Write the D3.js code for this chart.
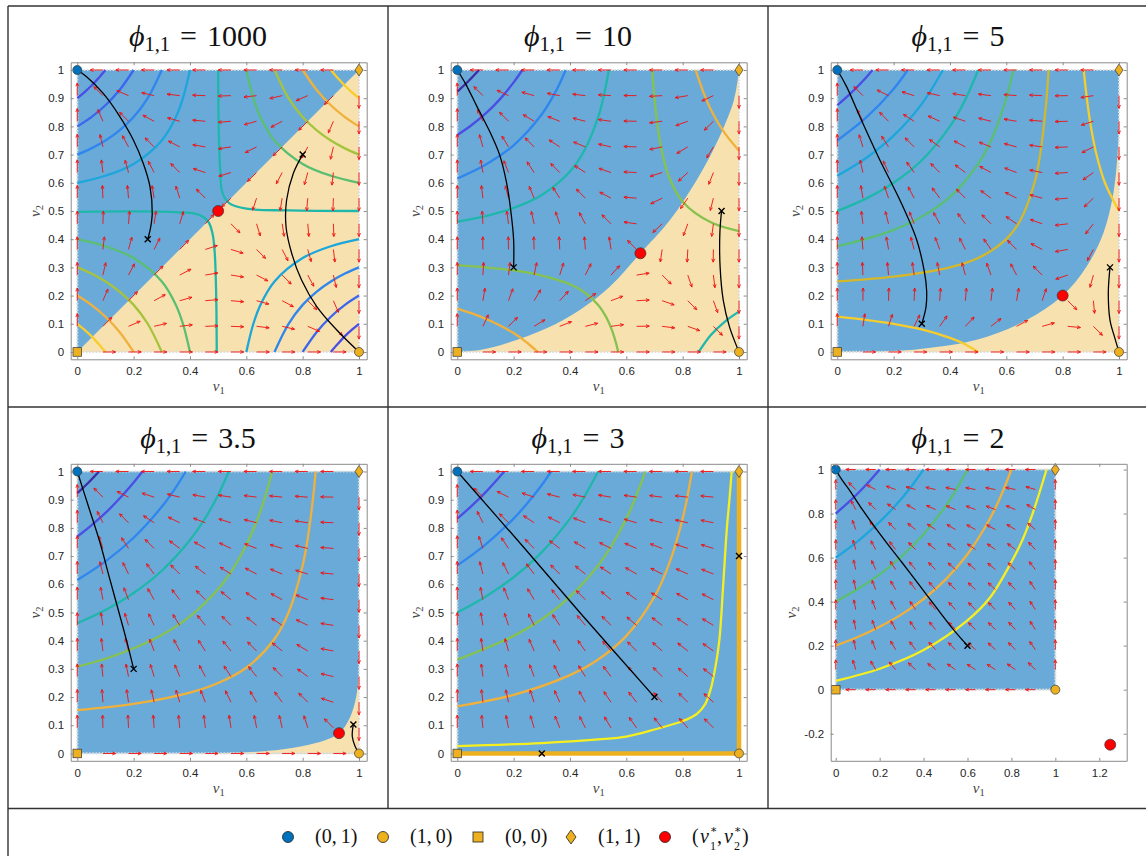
<!DOCTYPE html>
<html>
<head>
<meta charset="utf-8">
<script src="https://cdn.jsdelivr.net/npm/d3@7"></script>
<style>
  body { margin: 0; background: #fff; }
  svg { display: block; }
  .tick text { font-family: "Liberation Sans", Arial, sans-serif; font-size: 11.5px; fill: #262626; }
</style>
</head>
<body>
<div id="chart"></div>
<script>
// ---------------- data ----------------
const phiLabels = ["1000", "10", "5", "3.5", "3", "2"];

// interior equilibrium (v1*, v2*) for each panel, null when it sits on a corner
const saddles = [[0.5, 0.5], [0.65, 0.35], [0.8, 0.2], [0.929, 0.072], null, [1.25, -0.25]];

// quiver grid (same for every panel)
const gridPts = [0, 0.0909, 0.1818, 0.2727, 0.3636, 0.4545, 0.5455, 0.6364, 0.7273, 0.8182, 0.9091, 1];

// horizontal arrow component for each interior row (v2 = gridPts[1..10])
const arrowRowH = [
  [9.87, 4.26, 2.28, 1.165, 0.355, -0.379, -1.19, -2.31, -4.30, -9.94],
  [6.27, 2.26, 0.779, -0.118, -0.843, -1.577, -2.475, -3.805, -6.29, -13.54],
  [2.64, 0.245, -0.734, -1.414, -2.054, -2.787, -3.771, -5.318, -8.31, -17.17],
  [-0.471, -1.484, -2.03, -2.525, -3.091, -3.825, -4.883, -6.615, -10.04, -20.28],
  [-2.2, -2.444, -2.75, -3.143, -3.667, -4.4, -5.5, -7.333, -11, -22],
  [-8.25, -5.8, -5.27, -5.3, -5.68, -6.42, -7.66, -9.86, -14.36, -28.06]
];
// vertical arrow component for each interior column (v1 = gridPts[1..10])
const arrowColV = [
  [9.94, 4.30, 2.31, 1.19, 0.379, -0.355, -1.165, -2.28, -4.26, -9.87],
  [13.54, 6.29, 3.805, 2.475, 1.577, 0.843, 0.118, -0.779, -2.26, -6.27],
  [17.17, 8.31, 5.318, 3.771, 2.787, 2.054, 1.414, 0.734, -0.245, -2.64],
  [20.28, 10.04, 6.615, 4.883, 3.825, 3.091, 2.525, 2.03, 1.484, 0.471],
  [22, 11, 7.333, 5.5, 4.4, 3.667, 3.143, 2.75, 2.444, 2.2],
  [28.06, 14.36, 9.86, 7.66, 6.42, 5.68, 5.3, 5.27, 5.8, 8.25]
];
// flow direction along the square's edges (+1 / -1 / 0 = no flow)
const edgeTop = [-1, -1, -1, -1, -1, -1];     // along v1
const edgeBottom = [1, 1, 1, 1, 0, -1];       // along v1
const edgeLeft = [1, 1, 1, 1, 1, 1];          // along v2
const edgeRight = [-1, -1, -1, -1, 0, 1];     // along v2

// boundary between the two basins (beige region lies below / right of it)
const basinEdge = [
  [[0, 0], [1, 1]],
  [[0, 0], [0.08, 0.007], [0.175, 0.031], [0.317, 0.084], [0.435, 0.149], [0.542, 0.232], [0.65, 0.35],
   [0.755, 0.468], [0.85, 0.61], [0.92, 0.74], [0.982, 0.894], [1, 1]],
  [[0, 0], [0.2, 0.003], [0.317, 0.013], [0.495, 0.043], [0.672, 0.113], [0.8, 0.2], [0.885, 0.303],
   [0.944, 0.42], [0.98, 0.563], [0.995, 0.7], [1, 0.78]],
  [[0.45, 0], [0.6, 0.004], [0.731, 0.015], [0.85, 0.038], [0.929, 0.072], [0.968, 0.128], [0.99, 0.2], [1, 0.28]],
  null,
  null
];

// equilibrium lines (phi = 3)
const eqLines = [[], [], [], [], [[[0, 0], [1, 0]], [[1, 0], [1, 1]]], []];

// contour lines of each panel and their colour key
const contours1000 = [
  [[0, 0.1], [0.025, 0.079], [0.05, 0.056], [0.075, 0.029], [0.1, 0]],
  [[1, 0.9], [0.975, 0.921], [0.95, 0.944], [0.925, 0.971], [0.9, 1]],
  [[0, 0.2], [0.05, 0.167], [0.1, 0.125], [0.15, 0.071], [0.2, 0]],
  [[1, 0.8], [0.95, 0.833], [0.9, 0.875], [0.85, 0.929], [0.8, 1]],
  [[0, 0.3], [0.05, 0.278], [0.1, 0.25], [0.15, 0.214], [0.2, 0.167], [0.25, 0.1], [0.3, 0]],
  [[1, 0.7], [0.95, 0.722], [0.9, 0.75], [0.85, 0.786], [0.8, 0.833], [0.75, 0.9], [0.7, 1]],
  [[0, 0.4], [0.1, 0.375], [0.2, 0.333], [0.3, 0.25], [0.35, 0.167], [0.375, 0.1], [0.4, 0]],
  [[1, 0.6], [0.9, 0.625], [0.8, 0.667], [0.7, 0.75], [0.65, 0.833], [0.625, 0.9], [0.6, 1]],
  [[0, 0.497], [0.35, 0.496], [0.43, 0.487], [0.465, 0.462], [0.48, 0.42], [0.488, 0.35], [0.493, 0.2], [0.495, 0]],
  [[0.5, 1], [0.502, 0.8], [0.507, 0.65], [0.515, 0.565], [0.54, 0.527], [0.6, 0.508], [0.75, 0.502], [1, 0.5]],
  [[0, 0.6], [0.1, 0.625], [0.2, 0.667], [0.3, 0.75], [0.35, 0.833], [0.375, 0.9], [0.4, 1]],
  [[1, 0.4], [0.9, 0.375], [0.8, 0.333], [0.7, 0.25], [0.65, 0.167], [0.625, 0.1], [0.6, 0]],
  [[0, 0.7], [0.05, 0.722], [0.1, 0.75], [0.15, 0.786], [0.2, 0.833], [0.25, 0.9], [0.3, 1]],
  [[1, 0.3], [0.95, 0.278], [0.9, 0.25], [0.85, 0.214], [0.8, 0.167], [0.75, 0.1], [0.7, 0]],
  [[0, 0.8], [0.05, 0.833], [0.1, 0.875], [0.15, 0.929], [0.2, 1]],
  [[1, 0.2], [0.95, 0.167], [0.9, 0.125], [0.85, 0.071], [0.8, 0]],
  [[0, 0.9], [0.025, 0.921], [0.05, 0.944], [0.075, 0.971], [0.1, 1]],
  [[1, 0.1], [0.975, 0.079], [0.95, 0.056], [0.925, 0.029], [0.9, 0]]
];
const tones1000 = ["y1", "y1", "o", "o", "yg", "yg", "g", "g", "t", "t", "lb", "lb", "b", "b", "b2", "b2", "vb", "vb"];

const contours10 = [
  [[0, 0.154], [0.05, 0.1375], [0.1, 0.118], [0.15, 0.095], [0.2, 0.067], [0.25, 0.031], [0.286, 0]],
  [[0.846, 1], [0.85, 0.988], [0.875, 0.917], [0.9, 0.86], [0.95, 0.775], [1, 0.714]],
  [[0, 0.308], [0.1, 0.3], [0.2, 0.289], [0.3, 0.271], [0.4, 0.24], [0.45, 0.2125], [0.5, 0.167], [0.53, 0.121], [0.55, 0.075], [0.565, 0.026], [0.571, 0]],
  [[0.692, 1], [0.7, 0.9], [0.71, 0.808], [0.72, 0.743], [0.75, 0.625], [0.8, 0.533], [0.9, 0.46], [1, 0.429]],
  [[0, 0.462], [0.1, 0.482], [0.2, 0.511], [0.3, 0.557], [0.4, 0.64], [0.45, 0.7125], [0.5, 0.833], [0.52, 0.908], [0.538, 1]],
  [[0.857, 0], [0.9, 0.06], [0.95, 0.108], [1, 0.143]],
  [[0, 0.615], [0.1, 0.664], [0.2, 0.733], [0.3, 0.843], [0.35, 0.925], [0.385, 1]],
  [[0, 0.769], [0.05, 0.804], [0.1, 0.845], [0.15, 0.895], [0.2, 0.956], [0.231, 1]],
  [[0, 0.923], [0.04, 0.961], [0.077, 1]]
];
const tones10 = ["o", "o", "lg", "lg", "t", "t", "b", "vb", "ind"];

const contours5 = [
  [[0, 0.125], [0.1, 0.114], [0.2, 0.1], [0.3, 0.08], [0.4, 0.05], [0.45, 0.029], [0.5, 0]],
  [[0.875, 1], [0.88, 0.95], [0.89, 0.867], [0.9, 0.8], [0.92, 0.7], [0.95, 0.6], [1, 0.5]],
  [[0, 0.25], [0.2, 0.267], [0.4, 0.3], [0.5, 0.333], [0.6, 0.4], [0.65, 0.467], [0.7, 0.6], [0.72, 0.7], [0.74, 0.867], [0.75, 1]],
  [[0, 0.375], [0.1, 0.4], [0.2, 0.433], [0.3, 0.48], [0.4, 0.55], [0.5, 0.667], [0.55, 0.76], [0.6, 0.9], [0.625, 1]],
  [[0, 0.5], [0.1, 0.543], [0.2, 0.6], [0.3, 0.68], [0.4, 0.8], [0.45, 0.886], [0.5, 1]],
  [[0, 0.625], [0.1, 0.686], [0.2, 0.767], [0.3, 0.88], [0.375, 1]],
  [[0, 0.75], [0.1, 0.829], [0.2, 0.933], [0.25, 1]],
  [[0, 0.875], [0.05, 0.92], [0.1, 0.971], [0.125, 1]]
];
const tones5 = ["y1", "y1", "mu", "g", "t", "lb", "b", "vb"];

const contours35 = [
  [[0, 0.154], [0.2, 0.176], [0.4, 0.216], [0.5, 0.25], [0.6, 0.304], [0.7, 0.406], [0.75, 0.5], [0.8, 0.667], [0.82, 0.776], [0.84, 0.935], [0.846, 1]],
  [[0, 0.308], [0.1, 0.336], [0.2, 0.373], [0.3, 0.42], [0.4, 0.486], [0.5, 0.583], [0.55, 0.651], [0.6, 0.739], [0.65, 0.859], [0.692, 1]],
  [[0, 0.462], [0.1, 0.509], [0.2, 0.569], [0.3, 0.648], [0.4, 0.757], [0.45, 0.828], [0.5, 0.917], [0.538, 1]],
  [[0, 0.615], [0.1, 0.681], [0.2, 0.765], [0.3, 0.875], [0.35, 0.944], [0.385, 1]],
  [[0, 0.769], [0.05, 0.809], [0.1, 0.853], [0.15, 0.904], [0.2, 0.961], [0.231, 1]],
  [[0, 0.923], [0.04, 0.961], [0.077, 1]]
];
const tones35 = ["o", "lg", "t", "b", "vb", "ind"];

const contours3 = [
  [[0, 0.026], [0.3, 0.037], [0.5, 0.05], [0.6, 0.06], [0.7, 0.085], [0.8, 0.115], [0.85, 0.14], [0.88, 0.175],
   [0.9, 0.23], [0.915, 0.3], [0.93, 0.4], [0.944, 0.6], [0.957, 0.8], [0.966, 0.9], [0.974, 1]],
  [[0, 0.167], [0.2, 0.208], [0.4, 0.278], [0.5, 0.333], [0.6, 0.417], [0.7, 0.556], [0.75, 0.667], [0.8, 0.833], [0.833, 1]],
  [[0, 0.333], [0.2, 0.417], [0.3, 0.476], [0.4, 0.556], [0.5, 0.667], [0.55, 0.741], [0.6, 0.833], [0.65, 0.952], [0.667, 1]],
  [[0, 0.5], [0.1, 0.556], [0.2, 0.625], [0.3, 0.714], [0.4, 0.833], [0.45, 0.909], [0.5, 1]],
  [[0, 0.667], [0.1, 0.741], [0.2, 0.833], [0.25, 0.889], [0.3, 0.952], [0.333, 1]],
  [[0, 0.833], [0.05, 0.877], [0.1, 0.926], [0.167, 1]]
];
const tones3 = ["y", "o", "lg", "t", "b", "vb"];

const contours2 = [
  [[0, 0.04], [0.2, 0.095], [0.4, 0.18], [0.6, 0.315], [0.7, 0.415], [0.8, 0.58], [0.85, 0.68], [0.9, 0.81], [0.96, 1]],
  [[0, 0.2], [0.1, 0.239], [0.2, 0.286], [0.3, 0.342], [0.4, 0.412], [0.5, 0.5], [0.6, 0.615], [0.7, 0.773], [0.75, 0.875], [0.8, 1]],
  [[0, 0.4], [0.1, 0.457], [0.2, 0.524], [0.3, 0.605], [0.4, 0.706], [0.5, 0.833], [0.55, 0.911], [0.6, 1]],
  [[0, 0.6], [0.1, 0.674], [0.2, 0.762], [0.3, 0.868], [0.35, 0.931], [0.4, 1]],
  [[0, 0.8], [0.05, 0.844], [0.1, 0.891], [0.15, 0.943], [0.2, 1]]
];
const tones2 = ["y", "o", "g", "lb", "vb"];

const contourSets = [contours1000, contours10, contours5, contours35, contours3, contours2];
const toneSets = [tones1000, tones10, tones5, tones35, tones3, tones2];

// sample trajectories (first point = start, marked with x)
const trajectories = [
  [[[0.25, 0.4], [0.26, 0.44], [0.266, 0.492], [0.258, 0.586], [0.234, 0.669], [0.199, 0.752], [0.151, 0.835], [0.092, 0.917], [0.033, 0.976], [0, 1]],
   [[0.8, 0.7], [0.767, 0.634], [0.743, 0.539], [0.741, 0.444], [0.761, 0.35], [0.796, 0.255], [0.85, 0.161], [0.921, 0.078], [1, 0]]],
  [[[0.2, 0.3], [0.2, 0.397], [0.19, 0.5], [0.175, 0.6], [0.15, 0.7], [0.116, 0.78], [0.07, 0.87], [0.03, 0.95], [0, 1]],
   [[0.938, 0.5], [0.932, 0.42], [0.933, 0.3], [0.944, 0.184], [0.966, 0.09], [1, 0]]],
  [[[0.3, 0.1], [0.315, 0.16], [0.317, 0.22], [0.31, 0.28], [0.282, 0.397], [0.222, 0.539], [0.151, 0.681], [0.08, 0.835], [0.033, 0.941], [0, 1]],
   [[0.968, 0.3], [0.962, 0.208], [0.968, 0.113], [0.985, 0.05], [1, 0]]],
  [[[0.2, 0.3], [0.175, 0.4], [0.148, 0.5], [0.115, 0.62], [0.08, 0.75], [0.04, 0.875], [0, 1]],
   [[0.98, 0.103], [0.976, 0.061], [0.986, 0.026], [1, 0]]],
  [[[0.7, 0.2], [0.435, 0.5], [0.234, 0.733], [0, 1]],
   [[0.3, 0]],
   [[1, 0.7]]],
  [[[0.6, 0.2], [0.536, 0.273], [0.45, 0.384], [0.384, 0.47], [0.3, 0.58], [0.232, 0.667], [0.17, 0.75], [0.111, 0.833], [0.06, 0.91], [0.027, 0.955], [0, 1]]]
];

const xTicks = [0, 0.2, 0.4, 0.6, 0.8, 1];
const yTicks = [0, 0.1, 0.2, 0.3, 0.4, 0.5, 0.6, 0.7, 0.8, 0.9, 1];
const xTicksWide = [0, 0.2, 0.4, 0.6, 0.8, 1, 1.2];
const yTicksWide = [-0.2, 0, 0.2, 0.4, 0.6, 0.8, 1];

const legendLabels = ["(0,\u20091)", "(1,\u20090)", "(0,\u20090)", "(1,\u20091)"];

// ---------------- styles ----------------
const toneColor = {
  y: "#f6ef1f", y1: "#f6cd2c", o: "#f0b13c", mu: "#d3b82c", yg: "#a5c33c", lg: "#86c24f",
  g: "#5abf72", t: "#1fb7ab", lb: "#1ca6dc", b: "#2f86ee", b2: "#3c66ee", vb: "#4a4ee4", ind: "#3c2ea4"
};
const BLUE_FILL = "#6aaad8", BEIGE_FILL = "#f7e1ae";
const C_BLUE = "#0072bd", C_ORANGE = "#edb120", C_RED = "#ff0000";
const SERIF = "'Liberation Serif', 'DejaVu Serif', serif";

const W = 1146, H = 856;
const svg = d3.select("#chart").append("svg").attr("width", W).attr("height", H);

// table rules
const rules = svg.append("g").attr("stroke", "#333").attr("stroke-width", 1.4);
[[8, 6, 8, 856], [388, 6, 388, 808.5], [768, 6, 768, 808.5],
 [8, 6, 1146, 6], [8, 407, 1146, 407], [8, 808.5, 1146, 808.5]].forEach(l => {
  rules.append("line").attr("x1", l[0]).attr("y1", l[1]).attr("x2", l[2]).attr("y2", l[3]);
});

const colX = [0, 380, 760], rowY = [0, 401.5];
const arrowLen = 0.045;

function arrowPath(x0, y0, x1, y1) {
  const dx = x1 - x0, dy = y1 - y0, len = Math.hypot(dx, dy);
  const bx = -dx / len, by = -dy / len;
  const hl = 3.6, c = Math.cos(0.42), s = Math.sin(0.42);
  const ax = x1 + hl * (bx * c - by * s), ay = y1 + hl * (bx * s + by * c);
  const cx = x1 + hl * (bx * c + by * s), cy = y1 + hl * (-bx * s + by * c);
  return `M${x0},${y0}L${x1},${y1}M${ax},${ay}L${x1},${y1}L${cx},${cy}`;
}

phiLabels.forEach((lab, k) => {
  const ox = colX[k % 3], oy = rowY[Math.floor(k / 3)];
  const wide = k === 5;
  const x = d3.scaleLinear().domain(wide ? [-0.023, 1.325] : [-0.0234, 1.0273]).range([ox + 70.7, ox + 366.7]);
  const y = d3.scaleLinear().domain(wide ? [-0.323, 1.026] : [-0.026, 1.0273]).range([oy + 359.3, oy + 62.3]);
  const line = d3.line().x(d => x(d[0])).y(d => y(d[1])).curve(d3.curveCatmullRom.alpha(0.5));

  const clipId = "clip" + k;
  svg.append("clipPath").attr("id", clipId).append("rect")
    .attr("x", ox + 70.7).attr("y", oy + 62.3).attr("width", 296).attr("height", 297);
  const g = svg.append("g").attr("clip-path", `url(#${clipId})`);

  // basins
  g.append("rect").attr("x", x(0)).attr("y", y(1)).attr("width", x(1) - x(0)).attr("height", y(0) - y(1))
    .attr("fill", BLUE_FILL);
  if (basinEdge[k]) {
    g.append("path").attr("d", line(basinEdge[k]) + `L${x(1)},${y(0)}Z`).attr("fill", BEIGE_FILL);
  }
  g.append("rect").attr("x", x(0)).attr("y", y(1)).attr("width", x(1) - x(0)).attr("height", y(0) - y(1))
    .attr("fill", "none").attr("stroke", "#dcdcdc").attr("stroke-width", 2.2).attr("stroke-dasharray", "1.6 1.6");

  // equilibrium lines
  eqLines[k].forEach(seg => {
    g.append("path").attr("d", d3.line().x(d => x(d[0])).y(d => y(d[1]))(seg))
      .attr("stroke", C_ORANGE).attr("stroke-width", 4.5).attr("fill", "none");
  });

  // contours
  contourSets[k].forEach((pts, i) => {
    g.append("path").attr("d", line(pts)).attr("fill", "none")
      .attr("stroke", toneColor[toneSets[k][i]]).attr("stroke-width", 2.3);
  });

  // quiver
  let qd = "";
  const addArrow = (vx, vy, ang) => {
    const ex = vx + arrowLen * Math.cos(ang), ey = vy + arrowLen * Math.sin(ang);
    qd += arrowPath(x(vx), y(vy), x(ex), y(ey));
  };
  for (let i = 1; i <= 10; i++) {
    for (let j = 1; j <= 10; j++) {
      addArrow(gridPts[i], gridPts[j], Math.atan2(arrowColV[k][i - 1], arrowRowH[k][j - 1]));
    }
    if (edgeBottom[k]) addArrow(gridPts[i], 0, edgeBottom[k] > 0 ? 0 : Math.PI);
    if (edgeTop[k]) addArrow(gridPts[i], 1, edgeTop[k] > 0 ? 0 : Math.PI);
    if (edgeLeft[k]) addArrow(0, gridPts[i], edgeLeft[k] > 0 ? Math.PI / 2 : -Math.PI / 2);
    if (edgeRight[k]) addArrow(1, gridPts[i], edgeRight[k] > 0 ? Math.PI / 2 : -Math.PI / 2);
  }
  g.append("path").attr("d", qd).attr("fill", "none").attr("stroke", "#f01010").attr("stroke-width", 0.9);

  // trajectories
  trajectories[k].forEach(tr => {
    if (tr.length > 1) {
      g.append("path").attr("d", line(tr)).attr("fill", "none").attr("stroke", "#000").attr("stroke-width", 1.3);
    }
    const sx = x(tr[0][0]), sy = y(tr[0][1]), r = 3;
    g.append("path").attr("d", `M${sx - r},${sy - r}L${sx + r},${sy + r}M${sx - r},${sy + r}L${sx + r},${sy - r}`)
      .attr("stroke", "#000").attr("stroke-width", 1.4);
  });

  // equilibria
  const m = svg.append("g").attr("stroke", "#333").attr("stroke-width", 0.7);
  m.append("circle").attr("cx", x(0)).attr("cy", y(1)).attr("r", 4.5).attr("fill", C_BLUE);
  m.append("circle").attr("cx", x(1)).attr("cy", y(0)).attr("r", 4.5).attr("fill", C_ORANGE);
  m.append("rect").attr("x", x(0) - 4.3).attr("y", y(0) - 4.3).attr("width", 8.6).attr("height", 8.6).attr("fill", C_ORANGE);
  m.append("path").attr("d", `M${x(1)},${y(1) - 6}L${x(1) + 4},${y(1)}L${x(1)},${y(1) + 6}L${x(1) - 4},${y(1)}Z`).attr("fill", C_ORANGE);
  if (saddles[k]) {
    m.append("circle").attr("cx", x(saddles[k][0])).attr("cy", y(saddles[k][1])).attr("r", 5.5).attr("fill", C_RED);
  }

  // axes
  const ax = svg.append("g");
  const xt = wide ? xTicksWide : xTicks, yt = wide ? yTicksWide : yTicks;
  ax.append("g").attr("transform", `translate(0,${y.range()[0]})`)
    .call(d3.axisBottom(x).tickValues(xt).tickFormat(d => String(d)).tickSize(-3).tickSizeOuter(0).tickPadding(8));
  ax.append("g").attr("transform", `translate(0,${y.range()[1]})`)
    .call(d3.axisTop(x).tickValues(xt).tickFormat("").tickSize(-3).tickSizeOuter(0));
  ax.append("g").attr("transform", `translate(${x.range()[0]},0)`)
    .call(d3.axisLeft(y).tickValues(yt).tickFormat(d => String(d)).tickSize(-3).tickSizeOuter(0).tickPadding(6.5));
  ax.append("g").attr("transform", `translate(${x.range()[1]},0)`)
    .call(d3.axisRight(y).tickValues(yt).tickFormat("").tickSize(-3).tickSizeOuter(0));
  ax.selectAll(".domain").attr("stroke", "#8a8a8a");
  ax.selectAll(".tick line").attr("stroke", "#8a8a8a");

  // axis labels
  const xl = svg.append("text").attr("x", ox + 218.7).attr("y", oy + 391).attr("text-anchor", "middle")
    .attr("font-family", SERIF).attr("font-size", 15).attr("fill", "#444");
  xl.append("tspan").attr("font-style", "italic").text("v");
  xl.append("tspan").attr("font-size", 10.5).attr("dy", 3).text("1");
  const yl = svg.append("text").attr("transform", `translate(${ox + (wide ? 36 : 40)},${oy + 211}) rotate(-90)`)
    .attr("text-anchor", "middle").attr("font-family", SERIF).attr("font-size", 15).attr("fill", "#444");
  yl.append("tspan").attr("font-style", "italic").text("v");
  yl.append("tspan").attr("font-size", 10.5).attr("dy", 3).text("2");

  // title
  const t = svg.append("text").attr("x", ox + 198).attr("y", oy + 46).attr("text-anchor", "middle")
    .attr("font-family", SERIF).attr("font-size", 30).attr("fill", "#111");
  t.append("tspan").attr("font-style", "italic").text("\u03D5");
  t.append("tspan").attr("font-size", 20.5).attr("dy", 5).text("1,1");
  t.append("tspan").attr("dy", -5).attr("dx", 10).text("=");
  t.append("tspan").attr("dx", 10).text(lab);
});

// legend
const ly = 837;
const lg = svg.append("g").attr("stroke", "#222").attr("stroke-width", 0.8);
lg.append("circle").attr("cx", 288).attr("cy", ly).attr("r", 5.5).attr("fill", C_BLUE);
lg.append("circle").attr("cx", 383).attr("cy", ly).attr("r", 5.5).attr("fill", C_ORANGE);
lg.append("rect").attr("x", 473).attr("y", ly - 5).attr("width", 10).attr("height", 10).attr("fill", C_ORANGE);
lg.append("path").attr("d", `M571,${ly - 7}L576,${ly}L571,${ly + 7}L566,${ly}Z`).attr("fill", C_ORANGE);
lg.append("circle").attr("cx", 665).attr("cy", ly).attr("r", 5.5).attr("fill", C_RED);

[315, 410, 505, 598].forEach((lx, i) => {
  svg.append("text").attr("x", lx).attr("y", 843).attr("font-family", SERIF).attr("font-size", 20)
    .attr("fill", "#111").text(legendLabels[i]);
});
const star = [
  ["(", 692, 843, 20, false], ["v", 700, 843, 20, true], ["\u2217", 710, 833, 11, false], ["1", 710, 850, 12, false],
  [",", 717, 843, 20, false], ["v", 724, 843, 20, true], ["\u2217", 734, 833, 11, false], ["2", 734, 850, 12, false],
  [")", 742, 843, 20, false]
];
star.forEach(s => {
  svg.append("text").attr("x", s[1]).attr("y", s[2]).attr("font-family", SERIF).attr("font-size", s[3])
    .attr("font-style", s[4] ? "italic" : "normal").attr("fill", "#111").text(s[0]);
});
</script>
</body>
</html>
